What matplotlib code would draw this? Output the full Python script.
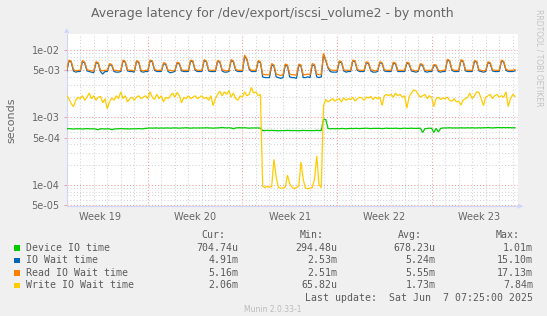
import numpy as np
import matplotlib
matplotlib.use('Agg')
import matplotlib.pyplot as plt
from matplotlib.patches import Rectangle, Polygon

# ---------------- data (4-hour samples, days from graph start) ----------------
sample_hours = 4

device_us = [
    680, 685, 680, 675, 680, 680,
    680, 675, 680, 685, 680, 680,
    680, 670, 660, 680, 680, 675,
    680, 680, 660, 675, 680, 680,
    685, 680, 680, 680, 675, 680,
    680, 680, 685, 680, 680, 690,
    695, 700, 695, 700, 700, 695,
    700, 695, 700, 700, 695, 700,
    700, 700, 695, 700, 700, 705,
    700, 695, 700, 700, 700, 700,
    700, 700, 705, 700, 700, 695,
    700, 700, 705, 710, 705, 700,
    705, 700, 680, 700, 705, 705,
    700, 705, 700, 695, 700, 700,
    700, 700, 695, 640, 640, 645,
    640, 645, 640, 640, 635, 640,
    640, 640, 645, 640, 640, 640,
    640, 635, 640, 645, 640, 640,
    640, 640, 640, 645, 640, 640,
    940, 930, 690, 680, 685, 680,
    685, 680, 690, 685, 680, 685,
    690, 685, 690, 690, 685, 690,
    690, 695, 690, 685, 690, 690,
    690, 690, 685, 690, 695, 690,
    690, 690, 695, 690, 685, 690,
    695, 690, 690, 695, 690, 690,
    690, 695, 600, 680, 690, 695,
    690, 600, 690, 610, 690, 700,
    700, 700, 705, 700, 700, 700,
    700, 705, 700, 700, 705, 700,
    705, 700, 700, 705, 700, 705,
    705, 710, 705, 700, 705, 710,
    710, 705, 710, 705, 710, 705,
    705, 704.74,
]

iowait_ms = [
    4.8, 6.9, 6.6, 4.9, 4.7, 4.8,
    4.8, 6.8, 6.4, 4.9, 4.8, 4.7,
    4.6, 6.5, 6.3, 4.8, 4.4, 4.8,
    4.8, 6.1, 5.9, 4.8, 4.7, 4.7,
    4.8, 6.9, 6.6, 4.9, 4.8, 4.8,
    4.7, 6.8, 6.5, 4.8, 4.7, 4.8,
    4.8, 6.9, 6.7, 5.0, 4.8, 4.8,
    4.8, 6.3, 6.1, 4.8, 4.6, 4.7,
    4.8, 6.4, 6.2, 4.9, 4.8, 4.8,
    4.8, 6.9, 6.7, 5.0, 4.8, 4.8,
    4.8, 7.0, 6.7, 4.9, 4.8, 4.8,
    4.8, 6.8, 6.6, 4.9, 4.7, 4.7,
    4.8, 7.0, 6.7, 5.0, 4.8, 4.8,
    4.8, 8.1, 7.2, 5.2, 4.8, 4.8,
    4.8, 6.8, 6.5, 4.0, 3.9, 3.9,
    3.9, 6.0, 5.8, 4.0, 3.9, 3.8,
    3.9, 5.9, 5.8, 4.0, 3.9, 3.9,
    3.8, 5.9, 5.8, 3.9, 3.9, 4.0,
    3.9, 6.0, 5.9, 4.0, 3.9, 4.0,
    8.6, 7.0, 5.4, 4.8, 4.7, 4.7,
    4.7, 6.7, 6.5, 4.9, 4.7, 4.8,
    4.8, 6.9, 6.7, 5.0, 4.8, 4.8,
    4.8, 6.5, 6.3, 4.9, 4.7, 4.7,
    4.8, 6.5, 6.3, 4.9, 4.8, 4.8,
    4.8, 6.4, 6.2, 4.8, 4.8, 4.8,
    4.8, 6.4, 6.2, 4.9, 4.8, 4.7,
    4.8, 6.1, 5.9, 4.8, 4.7, 4.8,
    4.8, 5.9, 5.8, 4.8, 4.7, 4.8,
    4.8, 7.1, 6.8, 5.0, 4.8, 4.8,
    4.8, 7.0, 6.7, 4.9, 4.8, 4.8,
    4.8, 6.8, 6.6, 4.9, 4.8, 4.7,
    4.8, 6.5, 6.3, 4.9, 4.8, 4.8,
    4.8, 6.9, 6.6, 5.0, 4.8, 4.8,
    4.8, 4.91,
]

read_ms = [
    5.0, 7.1, 6.8, 5.2, 4.9, 5.0,
    5.0, 7.0, 6.6, 5.1, 5.0, 4.9,
    4.9, 6.7, 6.5, 5.0, 4.9, 5.0,
    5.0, 6.3, 6.1, 5.0, 5.0, 4.9,
    5.0, 7.1, 6.8, 5.1, 5.0, 5.0,
    4.9, 7.0, 6.7, 5.0, 4.9, 5.0,
    5.0, 7.1, 6.9, 5.2, 5.0, 5.0,
    5.0, 6.5, 6.3, 5.0, 5.0, 4.9,
    5.0, 6.6, 6.4, 5.1, 5.0, 5.0,
    5.0, 7.1, 6.9, 5.2, 5.0, 5.0,
    5.0, 7.2, 6.9, 5.1, 5.0, 5.0,
    5.0, 7.0, 6.8, 5.1, 5.0, 4.9,
    5.0, 7.2, 6.9, 5.2, 5.0, 5.0,
    5.0, 8.4, 7.4, 5.4, 5.0, 5.0,
    5.0, 7.0, 6.7, 4.4, 4.3, 4.3,
    4.3, 6.3, 6.0, 4.4, 4.3, 4.2,
    4.3, 6.2, 6.0, 4.4, 4.3, 4.3,
    4.2, 6.2, 6.0, 4.3, 4.3, 4.4,
    4.3, 6.3, 6.1, 4.4, 4.3, 4.4,
    8.9, 7.2, 5.6, 5.1, 5.0, 5.0,
    5.0, 6.9, 6.7, 5.1, 5.0, 5.0,
    5.0, 7.1, 6.9, 5.2, 5.0, 5.0,
    5.0, 6.7, 6.5, 5.1, 5.0, 4.9,
    5.0, 6.7, 6.5, 5.1, 5.0, 5.0,
    5.0, 6.6, 6.4, 5.0, 5.0, 5.0,
    5.0, 6.6, 6.4, 5.1, 5.0, 4.9,
    5.0, 6.3, 6.1, 5.0, 5.0, 5.0,
    5.0, 6.1, 6.0, 5.0, 4.9, 5.0,
    5.0, 7.3, 7.0, 5.2, 5.0, 5.0,
    5.0, 7.2, 6.9, 5.1, 5.0, 5.0,
    5.0, 7.0, 6.8, 5.1, 5.0, 4.9,
    5.0, 6.7, 6.5, 5.1, 5.0, 5.0,
    5.0, 7.1, 6.8, 5.2, 5.0, 5.0,
    5.0, 5.16,
]

write_ms = [
    2.1, 1.9, 1.6, 1.45, 1.8, 2.0,
    1.9, 2.1, 1.8, 2.0, 2.3, 1.9,
    2.1, 1.8, 2.0, 2.05, 1.65, 1.9,
    1.35, 1.7, 1.95, 1.8, 2.1, 1.9,
    2.4, 1.9, 2.1, 1.7, 1.9, 2.0,
    1.8, 2.0, 2.1, 1.9, 2.0, 2.1,
    1.9, 2.4, 2.0, 1.85, 2.2, 1.9,
    2.1, 1.7, 2.0, 1.9, 2.1, 2.3,
    2.0, 2.35, 2.1, 1.65, 2.0, 1.9,
    2.1, 1.9, 2.0, 2.1, 1.9, 2.0,
    2.1, 1.9, 2.0, 1.8, 2.1, 1.5,
    1.9, 2.2, 2.45, 2.1, 2.4, 2.2,
    2.5, 2.0, 2.3, 1.9, 1.8, 2.1,
    2.0, 2.4, 2.1, 2.2, 2.8, 2.3,
    2.4, 2.1, 2.2, 0.095, 0.092, 0.095,
    0.093, 0.095, 0.24, 0.13, 0.092, 0.090,
    0.090, 0.092, 0.14, 0.105, 0.093, 0.088,
    0.092, 0.095, 0.22, 0.12, 0.090, 0.088,
    0.090, 0.092, 0.12, 0.27, 0.10, 0.092,
    1.5, 1.85, 1.7, 1.8, 1.9, 1.75,
    1.85, 1.9, 1.7, 1.95, 1.8, 1.9,
    1.85, 2.0, 1.75, 1.9, 2.0, 1.95,
    1.8, 2.0, 1.95, 2.05, 1.85, 2.0,
    1.9, 2.0, 1.5, 2.1, 2.2, 2.1,
    2.2, 2.0, 2.3, 2.1, 2.2, 2.0,
    2.1, 1.38, 2.0, 2.3, 2.55, 2.5,
    2.2, 2.0, 2.1, 2.2, 1.9, 2.1,
    2.0, 1.45, 1.9, 2.0, 1.85, 1.95,
    1.9, 2.0, 1.8, 1.75, 1.9, 1.7,
    1.75, 1.53, 1.8, 1.9, 2.0, 2.3,
    1.9, 2.1, 2.4, 2.35, 1.9, 1.5,
    2.0, 2.1, 2.2, 1.9, 2.1, 2.2,
    2.0, 2.1, 2.0, 2.4, 1.45, 1.9,
    2.2, 2.06,
]

series_labels = ['Device IO time', 'IO Wait time', 'Read IO Wait time', 'Write IO Wait time']
series_colors = ['#00CC00', '#0066B3', '#FF8000', '#FFCC00']
stat_cur = ['704.74u', '4.91m', '5.16m', '2.06m']
stat_min = ['294.48u', '2.53m', '2.51m', '65.82u']
stat_avg = ['678.23u', '5.24m', '5.55m', '1.73m']
stat_max = ['1.01m', '15.10m', '17.13m', '7.84m']

week_labels = ['Week 19', 'Week 20', 'Week 21', 'Week 22', 'Week 23']
week_label_days = [2.5, 9.5, 16.5, 23.5, 30.5]
week_start_days = [6, 13, 20, 27]
x_span_days = 33.39
y_limits = (4.85e-5, 1.75e-2)
y_major = [5e-5, 1e-4, 5e-4, 1e-3, 5e-3, 1e-2]
y_major_labels = ['5e-05', '1e-04', '5e-04', '1e-03', '5e-03', '1e-02']

title = 'Average latency for /dev/export/iscsi_volume2 - by month'
last_update = 'Last update:  Sat Jun  7 07:25:00 2025'

# ---------------- figure ----------------
W, H = 547, 316
BG = '#F0F0F0'
FONT = '#666666'
LEGFONT = '#5A5A5A'
AXISC = '#CFD6F8'
GRIDC = '#D4D4D4'
MGRIDC = '#F49A9A'

fig = plt.figure(figsize=(W / 100, H / 100), dpi=100, facecolor=BG)


def fx(px):
    return px / W


def fy(py):
    return 1 - py / H


L, R, T, B = 66.7, 518.0, 33.6, 206.2
ax = fig.add_axes([fx(L), fy(B), fx(R) - fx(L), fy(T) - fy(B)])
ax.set_facecolor('white')
ax.set_yscale('log')
ax.set_xlim(0, x_span_days)
ax.set_ylim(*y_limits)

dash = (0, (1, 2))
glw = 0.75
# vertical grid: days and weeks
for d in range(1, int(x_span_days) + 1):
    if d in week_start_days:
        ax.axvline(d, color=MGRIDC, lw=glw, ls=dash, zorder=0.6)
    else:
        ax.axvline(d, color=GRIDC, lw=glw, ls=dash, zorder=0.5)
# horizontal grid (log decades)
for e in range(-5, -1):
    for m in range(1, 10):
        v = m * 10.0 ** e
        if y_limits[0] < v < y_limits[1]:
            if m in (1, 5):
                ax.axhline(v, color=MGRIDC, lw=glw, ls=dash, zorder=0.6)
            else:
                ax.axhline(v, color=GRIDC, lw=glw, ls=dash, zorder=0.5)

step = sample_hours / 24.0
for vals, scale, col in [(device_us, 1e-6, series_colors[0]),
                         (iowait_ms, 1e-3, series_colors[1]),
                         (read_ms, 1e-3, series_colors[2]),
                         (write_ms, 1e-3, series_colors[3])]:
    v = np.asarray(vals, dtype=float) * scale
    t = np.arange(len(v)) * step
    ax.plot(t, v, color=col, lw=0.9, zorder=3, solid_joinstyle='miter')

for s in ['top', 'right']:
    ax.spines[s].set_visible(False)
for s in ['left', 'bottom']:
    ax.spines[s].set_color(AXISC)
    ax.spines[s].set_linewidth(0.8)

ax.set_yticks(y_major)
ax.set_yticklabels(y_major_labels)
ax.yaxis.set_minor_locator(matplotlib.ticker.NullLocator())
ax.tick_params(axis='y', which='major', length=2, width=0.7, color=MGRIDC,
               pad=3, labelsize=7, labelcolor=FONT)
ax.set_xticks(week_label_days)
ax.set_xticklabels(week_labels)
ax.tick_params(axis='x', which='major', length=0, pad=4.3, labelsize=7, labelcolor=FONT)

# arrows on axes
fig.add_artist(Polygon([[fx(L - 2.6), fy(T - 0.5)], [fx(L + 2.6), fy(T - 0.5)], [fx(L), fy(T - 5.5)]],
                       closed=True, color=AXISC, transform=fig.transFigure, lw=0))
fig.add_artist(Polygon([[fx(R), fy(B - 2.6)], [fx(R), fy(B + 2.6)], [fx(R + 5.5), fy(B)]],
                       closed=True, color=AXISC, transform=fig.transFigure, lw=0))

# titles
fig.text(fx(272.7), fy(13.5), title, ha='center', va='center', fontsize=9, color=FONT)
fig.text(fx(11), fy(120), 'seconds', ha='center', va='center', rotation=90, fontsize=8, color=FONT)
fig.text(fx(539.5), fy(57.5), 'RRDTOOL / TOBI OETIKER', ha='center', va='center', rotation=270,
         fontsize=5.5, color='#C4C4C4')

# legend
mono = 'DejaVu Sans Mono'
lfs = 7.1
head_y = 235
for txt, xr in zip(['Cur:', 'Min:', 'Avg:', 'Max:'], [225, 324, 422, 520]):
    fig.text(fx(xr), fy(head_y), txt, ha='right', va='center', family=mono, fontsize=lfs, color=LEGFONT)
row_y = [247.8, 260.3, 272.8, 285.3]
col_x = [238.3, 337.4, 435.4, 533.1]
for i in range(4):
    y = row_y[i]
    fig.add_artist(Rectangle((fx(14), fy(y + 2.8)), fx(5.5), 5.5 / H, color=series_colors[i],
                             transform=fig.transFigure, lw=0))
    fig.text(fx(26), fy(y), series_labels[i], ha='left', va='center', family=mono, fontsize=lfs,
             color=LEGFONT)
    for xr, vals in zip(col_x, [stat_cur, stat_min, stat_avg, stat_max]):
        fig.text(fx(xr), fy(y), vals[i], ha='right', va='center', family=mono, fontsize=lfs,
                 color=LEGFONT)
fig.text(fx(533.1), fy(297.7), last_update, ha='right', va='center', family=mono, fontsize=lfs,
         color=LEGFONT)
fig.text(fx(273), fy(310), 'Munin 2.0.33-1', ha='center', va='center', fontsize=5.5, color='#BBBBBB')

fig.savefig('out.png', dpi=100, facecolor=BG)
